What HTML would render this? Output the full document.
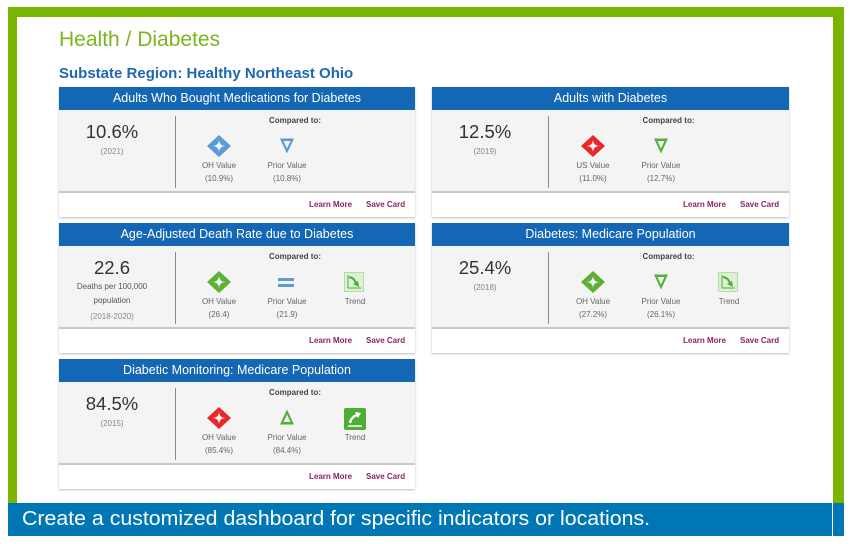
<!DOCTYPE html>
<html><head><meta charset="utf-8"><style>
*{margin:0;padding:0;box-sizing:border-box}
body{width:852px;height:544px;background:#fff;position:relative;overflow:hidden;font-family:"Liberation Sans",Arial,sans-serif}
.a{position:absolute}
.card{position:absolute;width:356px;height:130px;background:#fff;box-shadow:0 1px 2px rgba(0,0,0,.25)}
.hd{position:absolute;left:0;top:0;width:100%;height:23px;background:#1467b5;color:#fff;font-size:12.5px;text-align:center;line-height:22px}
.bd{position:absolute;left:0;top:23px;width:100%;height:83px;background:#f4f4f4;border-bottom:2px solid #c8c8c8}
.dv{position:absolute;left:116px;top:6px;width:1px;height:72px;background:#888}
.val{position:absolute;left:0;width:106px;text-align:center;font-size:18.5px;color:#333}
.sm{position:absolute;left:0;width:106px;text-align:center;font-size:8px;color:#888}
.ct{position:absolute;left:116px;right:0;top:6px;text-align:center;font-size:8px;font-weight:bold;color:#444}
.ic{position:absolute;top:24px;width:60px;height:24px;margin-left:-30px}
.lb{position:absolute;width:60px;margin-left:-30px;text-align:center;font-size:8px;color:#666}
.ft{position:absolute;top:113px;font-size:8px;font-weight:bold;color:#8b2460}
</style></head><body>
<div class="a" style="left:8px;top:7px;width:836px;height:10px;background:#7ab300"></div>
<div class="a" style="left:8px;top:7px;width:9px;height:497px;background:#7ab300"></div>
<div class="a" style="left:833px;top:7px;width:11px;height:497px;background:#7ab300"></div>
<div class="a" style="left:8px;top:503px;width:824px;height:33px;background:#0077b5"></div>
<div class="a" style="left:833px;top:503px;width:11px;height:33px;background:#0077b5"></div>
<div class="a" style="left:22px;top:507px;font-size:20px;color:#fff;line-height:24px;transform:scaleX(1.066);transform-origin:0 0;white-space:nowrap">Create a customized dashboard for specific indicators or locations.</div>

<div class="a" style="left:59px;top:28px;font-size:21px;color:#7ab51d">Health / Diabetes</div>
<div class="a" style="left:59px;top:65px;font-size:15px;font-weight:bold;color:#1f67b1">Substate Region: Healthy Northeast Ohio</div>

<svg width="0" height="0" style="position:absolute"><defs>
<symbol id="dia" viewBox="0 0 24 22"><path d="M12 0 L24 11 L12 22 L0 11Z M12 4 Q12 11 5 11 Q12 11 12 18 Q12 11 19 11 Q12 11 12 4Z" fill-rule="evenodd"/></symbol>
<symbol id="dn" viewBox="0 0 14 16"><path d="M0 1 H14 L7 16Z M3.5 3.5 L7 11 L10.5 3.5Z" fill-rule="evenodd"/></symbol>
<symbol id="up" viewBox="0 0 14 16"><path d="M0 15 H14 L7 0Z M3.5 12.5 L7 5 L10.5 12.5Z" fill-rule="evenodd"/></symbol>
</defs></svg>

<div class="card" style="left:59px;top:87px">
<div class="hd">Adults Who Bought Medications for Diabetes</div>
<div class="bd"><div class="dv"></div>
<div class="val" style="top:11px">10.6%</div><div class="sm" style="top:37px">(2021)</div>
<div class="ct">Compared to:</div>
<svg class="ic" style="left:160px" viewBox="-18 0 60 22"><use href="#dia" width="24" height="22" fill="#5b9bd5"/></svg>
<svg class="ic" style="left:228px;top:27px;height:17px" viewBox="-23 0 60 16"><use href="#dn" width="14" height="16" fill="#5b9bd5"/></svg>
<div class="lb" style="left:160px;top:51px">OH Value</div><div class="lb" style="left:160px;top:64px">(10.9%)</div>
<div class="lb" style="left:228px;top:51px">Prior Value</div><div class="lb" style="left:228px;top:64px">(10.8%)</div>
</div>
<div class="ft" style="left:250px">Learn More</div><div class="ft" style="left:307px">Save Card</div>
</div>

<div class="card" style="left:432px;top:87px;width:357px">
<div class="hd">Adults with Diabetes</div>
<div class="bd"><div class="dv"></div>
<div class="val" style="top:11px">12.5%</div><div class="sm" style="top:37px">(2019)</div>
<div class="ct">Compared to:</div>
<svg class="ic" style="left:161px" viewBox="-18 0 60 22"><use href="#dia" width="24" height="22" fill="#e8262b"/></svg>
<svg class="ic" style="left:229px;top:27px;height:17px" viewBox="-23 0 60 16"><use href="#dn" width="14" height="16" fill="#4fb233"/></svg>
<div class="lb" style="left:161px;top:51px">US Value</div><div class="lb" style="left:161px;top:64px">(11.0%)</div>
<div class="lb" style="left:229px;top:51px">Prior Value</div><div class="lb" style="left:229px;top:64px">(12.7%)</div>
</div>
<div class="ft" style="left:251px">Learn More</div><div class="ft" style="left:308px">Save Card</div>
</div>

<div class="card" style="left:59px;top:223px">
<div class="hd">Age-Adjusted Death Rate due to Diabetes</div>
<div class="bd"><div class="dv"></div>
<div class="val" style="top:11px">22.6</div>
<div class="sm" style="top:36px;color:#555">Deaths per 100,000</div>
<div class="sm" style="top:50px;color:#555">population</div>
<div class="sm" style="top:66px">(2018-2020)</div>
<div class="ct">Compared to:</div>
<svg class="ic" style="left:160px" viewBox="-18 0 60 22"><use href="#dia" width="24" height="22" fill="#5cb135"/></svg>
<div class="a" style="left:219px;top:32px;width:16px;height:3px;background:#5b9bd5"></div>
<div class="a" style="left:219px;top:38px;width:16px;height:3px;background:#5b9bd5"></div>
<div class="a" style="left:285px;top:26px;width:20px;height:20px;background:#dff0d8;border:1px solid #b5dca5"><svg width="18" height="18" viewBox="0 0 18 18"><path d="M4 4 Q10 5 11 11" stroke="#4cae34" stroke-width="2" fill="none"/><path d="M8 11 L14 14 L13 8Z" fill="#4cae34"/><path d="M3 2 V15 H16" stroke="#4cae34" stroke-width="1" fill="none"/></svg></div>
<div class="lb" style="left:160px;top:51px">OH Value</div><div class="lb" style="left:160px;top:64px">(26.4)</div>
<div class="lb" style="left:228px;top:51px">Prior Value</div><div class="lb" style="left:228px;top:64px">(21.9)</div>
<div class="lb" style="left:296px;top:51px">Trend</div>
</div>
<div class="ft" style="left:250px">Learn More</div><div class="ft" style="left:307px">Save Card</div>
</div>

<div class="card" style="left:432px;top:223px;width:357px">
<div class="hd">Diabetes: Medicare Population</div>
<div class="bd"><div class="dv"></div>
<div class="val" style="top:11px">25.4%</div><div class="sm" style="top:37px">(2018)</div>
<div class="ct">Compared to:</div>
<svg class="ic" style="left:161px" viewBox="-18 0 60 22"><use href="#dia" width="24" height="22" fill="#5cb135"/></svg>
<svg class="ic" style="left:229px;top:27px;height:17px" viewBox="-23 0 60 16"><use href="#dn" width="14" height="16" fill="#4fb233"/></svg>
<div class="a" style="left:286px;top:26px;width:20px;height:20px;background:#dff0d8;border:1px solid #b5dca5"><svg width="18" height="18" viewBox="0 0 18 18"><path d="M4 4 Q10 5 11 11" stroke="#4cae34" stroke-width="2" fill="none"/><path d="M8 11 L14 14 L13 8Z" fill="#4cae34"/><path d="M3 2 V15 H16" stroke="#4cae34" stroke-width="1" fill="none"/></svg></div>
<div class="lb" style="left:161px;top:51px">OH Value</div><div class="lb" style="left:161px;top:64px">(27.2%)</div>
<div class="lb" style="left:229px;top:51px">Prior Value</div><div class="lb" style="left:229px;top:64px">(26.1%)</div>
<div class="lb" style="left:297px;top:51px">Trend</div>
</div>
<div class="ft" style="left:251px">Learn More</div><div class="ft" style="left:308px">Save Card</div>
</div>

<div class="card" style="left:59px;top:359px">
<div class="hd">Diabetic Monitoring: Medicare Population</div>
<div class="bd"><div class="dv"></div>
<div class="val" style="top:11px">84.5%</div><div class="sm" style="top:37px">(2015)</div>
<div class="ct">Compared to:</div>
<svg class="ic" style="left:160px" viewBox="-18 0 60 22"><use href="#dia" width="24" height="22" fill="#e8262b"/></svg>
<svg class="ic" style="left:228px;top:27px;height:17px" viewBox="-23 0 60 16"><use href="#up" width="14" height="16" fill="#4fb233"/></svg>
<div class="a" style="left:285px;top:26px;width:22px;height:22px;background:#4cae34;border-radius:2px"><svg width="22" height="22" viewBox="0 0 22 22"><path d="M6 15 Q7 9 13 7" stroke="#fff" stroke-width="2.5" fill="none"/><path d="M11 4 L17 5 L14 10Z" fill="#fff"/><path d="M4 18 H18" stroke="#fff" stroke-width="1.5"/></svg></div>
<div class="lb" style="left:160px;top:51px">OH Value</div><div class="lb" style="left:160px;top:64px">(85.4%)</div>
<div class="lb" style="left:228px;top:51px">Prior Value</div><div class="lb" style="left:228px;top:64px">(84.4%)</div>
<div class="lb" style="left:296px;top:51px">Trend</div>
</div>
<div class="ft" style="left:250px">Learn More</div><div class="ft" style="left:307px">Save Card</div>
</div>
</body></html>
